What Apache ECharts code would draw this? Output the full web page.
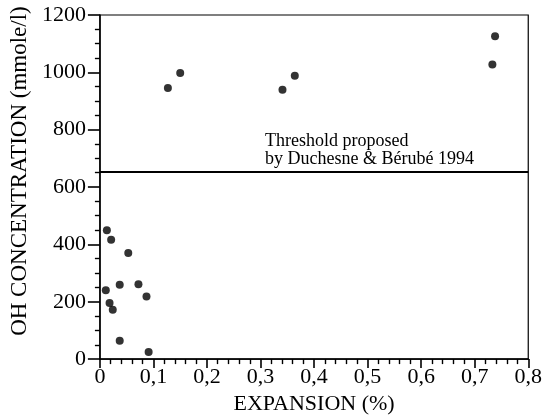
<!DOCTYPE html>
<html>
<head>
<meta charset="utf-8">
<script src="https://cdn.jsdelivr.net/npm/echarts@6/dist/echarts.min.js"></script>
<style>
  html, body { margin: 0; padding: 0; background: #fff; }
  #chart { width: 545px; height: 420px; }
</style>
</head>
<body>
<div id="chart"></div>
<script>
// Expansion (%) and OH concentration (mmole/l) for each specimen
const expansion = [0.013, 0.021, 0.053, 0.011, 0.018, 0.024, 0.037, 0.072, 0.087, 0.037, 0.091,
                   0.127, 0.150, 0.341, 0.364, 0.733, 0.738];
const ohConcentration = [449, 416, 370, 240, 196, 172, 259, 261, 218, 64, 25,
                         945, 998, 939, 988, 1027, 1126];

// Alkali threshold line
const threshold = 655;
const thresholdNote = ['Threshold proposed', 'by Duchesne & Bérubé 1994'];

const xTicks = { min: 0, max: 0.8, step: 0.1 };
const yTicks = { min: 0, max: 1200, step: 200 };

const points = expansion.map((x, i) => [x, ohConcentration[i]]);

const serif = 'Liberation Serif';
const chart = echarts.init(document.getElementById('chart'));

chart.setOption({
  animation: false,
  backgroundColor: '#fff',
  grid: {
    left: 92, right: 14, top: 15, bottom: 58,
    show: true, borderColor: '#000', borderWidth: 1.2
  },
  xAxis: {
    type: 'value',
    min: xTicks.min, max: xTicks.max, interval: xTicks.step,
    name: 'EXPANSION (%)',
    nameLocation: 'middle',
    nameGap: 33,
    nameTextStyle: { fontFamily: serif, fontSize: 22, color: '#000' },
    axisLine: { show: true, lineStyle: { color: '#000', width: 1.5 } },
    axisTick: { show: true, length: 9, lineStyle: { color: '#000', width: 1.6 } },
    minorTick: { show: true, splitNumber: 5, length: 5, lineStyle: { color: '#000', width: 1.4 } },
    splitLine: { show: false },
    axisLabel: {
      fontFamily: serif, fontSize: 22, color: '#000', margin: 7,
      formatter: v => (v === 0 ? '0' : v.toFixed(1).replace('.', ','))
    }
  },
  yAxis: {
    type: 'value',
    min: yTicks.min, max: yTicks.max, interval: yTicks.step,
    name: 'OH CONCENTRATION (mmole/l)',
    nameLocation: 'middle',
    nameGap: 56,
    nameTextStyle: { fontFamily: serif, fontSize: 23, color: '#000', padding: [0, 0, 0, 32] },
    axisLine: { show: true, lineStyle: { color: '#000', width: 1.5 } },
    axisTick: { show: true, length: 12, lineStyle: { color: '#000', width: 1.6 } },
    minorTick: { show: true, splitNumber: 4, length: 5, lineStyle: { color: '#000', width: 1.4 } },
    splitLine: { show: false },
    axisLabel: {
      fontFamily: serif, fontSize: 22, color: '#000', margin: 14,
      formatter: v => String(v)
    }
  },
  series: [{
    type: 'scatter',
    data: points,
    symbol: 'circle',
    symbolSize: 8,
    itemStyle: { color: '#000' },
    markLine: {
      silent: true,
      symbol: ['none', 'none'],
      label: { show: false },
      lineStyle: { color: '#000', width: 1.8, type: 'solid' },
      data: [{ yAxis: threshold }]
    }
  }],
  graphic: [{
    type: 'text',
    left: 265, top: 132,
    style: {
      text: thresholdNote.join('\n'),
      font: '18px "Liberation Serif"',
      lineHeight: 18,
      fill: '#000'
    }
  }]
});
</script>
</body>
</html>
